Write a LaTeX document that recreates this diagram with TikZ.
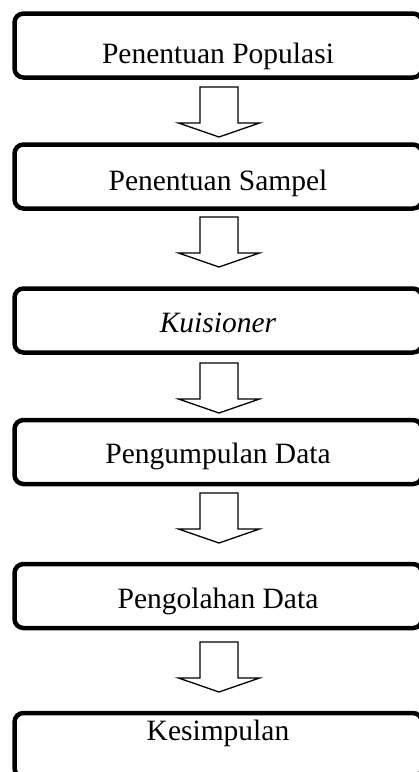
\documentclass[tikz,border=0pt]{standalone}
\usepackage{fontspec}
\setmainfont{Liberation Serif}
\begin{document}
\begin{tikzpicture}[x=1pt,y=-1pt,
  stepbox/.style={draw=black, line width=4.5pt, rounded corners=9pt,
    minimum width=407.5pt, minimum height=64pt, inner sep=0pt},
  lbl/.style={anchor=base, inner sep=0pt, font=\fontsize{29.5}{32}\selectfont},
  blockarrow/.style={draw=black, line width=1.3pt, fill=white, line join=miter},
  downarrow/.pic={\draw[blockarrow] (-19,0) -- (19,0) -- (19,36) -- (40.5,36)
     -- (0,50) -- (-40.5,36) -- (-19,36) -- cycle;}]
\useasboundingbox (0,0) rectangle (419,772);

\node[stepbox] (b1) at (218.25,45.5) {};
\node[lbl] (t1) at (218,63) {Penentuan Populasi};

\node[stepbox] (b2) at (218.25,176.5) {};
\node[lbl] (t2) at (218,190) {Penentuan Sampel};

\node[stepbox] (b3) at (218.25,320.5) {};
\node[lbl] (t3) at (218,332) {\itshape Kuisioner};

\node[stepbox] (b4) at (218.25,452) {};
\node[lbl] (t4) at (218,463) {Pengumpulan Data};

\node[stepbox] (b5) at (218.25,596) {};
\node[lbl] (t5) at (218,608) {Pengolahan Data};

\node[stepbox] (b6) at (218.25,745) {};
\node[lbl] (t6) at (218,740) {Kesimpulan};

\pic at (219,87) {downarrow};
\pic at (219,217) {downarrow};
\pic at (219,363) {downarrow};
\pic at (219,493) {downarrow};
\pic at (219,642) {downarrow};
\end{tikzpicture}
\end{document}
